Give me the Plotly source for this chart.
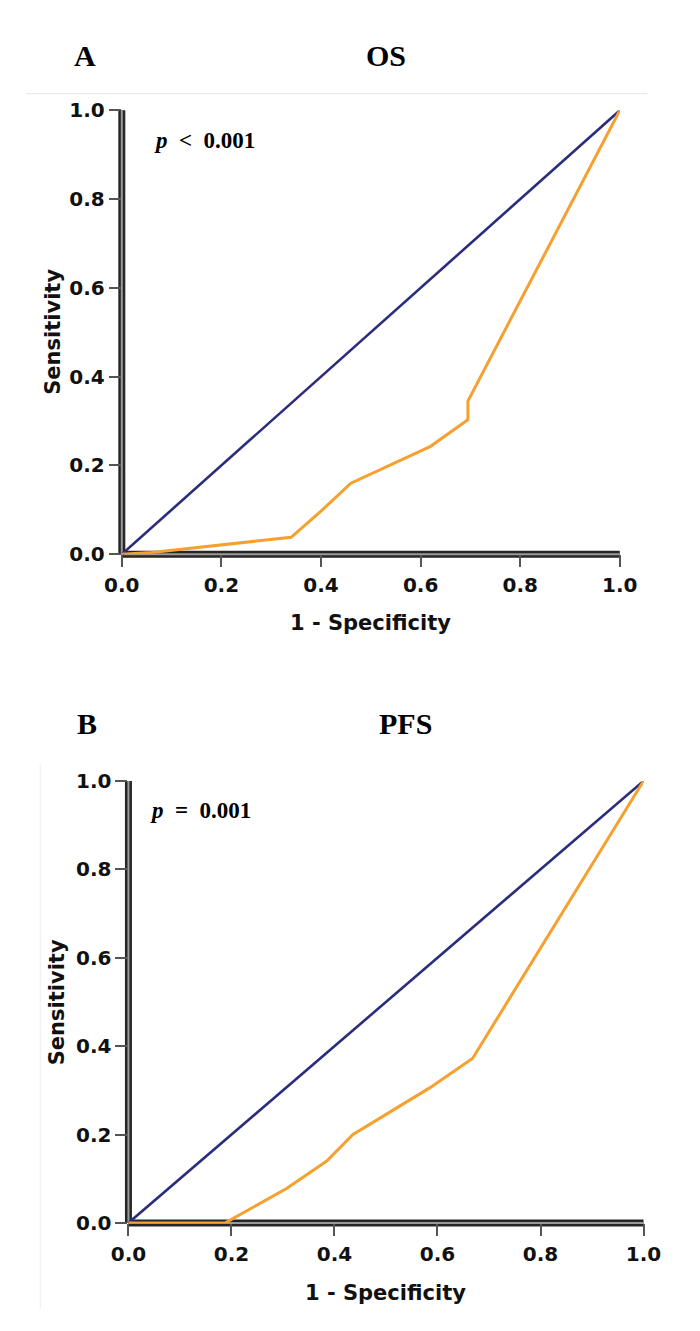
import plotly.graph_objects as go

W, H = 700, 1331

# ---- data ----
tick_vals = [0.0, 0.2, 0.4, 0.6, 0.8, 1.0]
tick_text = ["0.0", "0.2", "0.4", "0.6", "0.8", "1.0"]

ref_x = [0.0, 1.0]
ref_y = [0.0, 1.0]

os_fpr = [0.0, 0.06, 0.34, 0.40, 0.46, 0.62, 0.695, 0.695, 1.0]
os_tpr = [0.0, 0.004, 0.038, 0.097, 0.16, 0.243, 0.303, 0.345, 1.0]

pfs_fpr = [0.0, 0.188, 0.307, 0.385, 0.436, 0.584, 0.668, 1.0]
pfs_tpr = [0.0, 0.0, 0.078, 0.14, 0.20, 0.305, 0.372, 1.0]

panel_titles = ["OS", "PFS"]
panel_letters = ["A", "B"]
p_texts = ["<i>p</i>\u00a0\u00a0<\u00a0\u00a00.001", "<i>p</i>\u00a0\u00a0=\u00a0\u00a00.001"]

BLUE = "#2b2c7c"
ORANGE = "#f6a02f"

def px_x(p):
    return p / W

def px_y(p):
    return 1 - p / H

# panel geometry (pixels): left, right, top(1.0), bottom(0.0)
panels = [
    dict(l=101, r=626, t=92, b=544, title_y=36, letter_x=62, title_x=380,
         p_x=133, p_y=123, xlab_y=614, ylab_x=29),
    dict(l=108, r=651, t=775, b=1225, title_y=716, letter_x=64, title_x=400,
         p_x=129, p_y=805, xlab_y=1296, ylab_x=33),
]

fig = go.Figure()

series = [(os_fpr, os_tpr), (pfs_fpr, pfs_tpr)]
for i, (fx, fy) in enumerate(series):
    xa = "x" if i == 0 else "x2"
    ya = "y" if i == 0 else "y2"
    fig.add_trace(go.Scatter(x=ref_x, y=ref_y, mode="lines",
                             line=dict(color=BLUE, width=2.6),
                             xaxis=xa, yaxis=ya, showlegend=False, hoverinfo="skip"))
    fig.add_trace(go.Scatter(x=fx, y=fy, mode="lines",
                             line=dict(color=ORANGE, width=3),
                             xaxis=xa, yaxis=ya, showlegend=False, hoverinfo="skip"))

tickfont = dict(family="DejaVu Sans", size=20, color="#111111", weight="bold")
axis_common = dict(range=[0, 1], tickvals=tick_vals, ticktext=tick_text,
                   showgrid=False, zeroline=False, showline=False,
                   ticks="outside", ticklen=12, tickwidth=2, tickcolor="#555555",
                   tickfont=tickfont, fixedrange=True)

layout = dict(width=W, height=H, margin=dict(l=0, r=0, t=0, b=0),
              paper_bgcolor="white", plot_bgcolor="white", showlegend=False)

annotations = []
shapes = []
for i, pp in enumerate(panels):
    xk = "xaxis" if i == 0 else "xaxis2"
    yk = "yaxis" if i == 0 else "yaxis2"
    xref = "x" if i == 0 else "x2"
    yref = "y" if i == 0 else "y2"
    layout[xk] = dict(axis_common, domain=[px_x(pp["l"]), px_x(pp["r"])],
                      anchor=yref, ticklabelstandoff=1)
    layout[yk] = dict(axis_common, domain=[px_y(pp["b"]), px_y(pp["t"])],
                      anchor=xref, ticklabelstandoff=0)
    for (x0, y0, x1, y1) in [(0, 0, 1, 0), (0, 0, 0, 1)]:
        shapes.append(dict(type="line", xref=xref + " domain", yref=yref + " domain",
                           x0=x0, y0=y0, x1=x1, y1=y1,
                           line=dict(color="#262626", width=7), layer="below"))
        shapes.append(dict(type="line", xref=xref + " domain", yref=yref + " domain",
                           x0=x0, y0=y0, x1=x1, y1=y1,
                           line=dict(color="#9a9a9a", width=2), layer="below"))
    annotations.append(dict(text="<b>%s</b>" % panel_letters[i], xref="paper", yref="paper",
                            x=px_x(pp["letter_x"]), y=px_y(pp["title_y"]),
                            xanchor="center", yanchor="middle", showarrow=False,
                            font=dict(family="Liberation Serif", size=30, color="#000")))
    annotations.append(dict(text="<b>%s</b>" % panel_titles[i], xref="paper", yref="paper",
                            x=px_x(pp["title_x"]), y=px_y(pp["title_y"]),
                            xanchor="center", yanchor="middle", showarrow=False,
                            font=dict(family="Liberation Serif", size=30, color="#000")))
    annotations.append(dict(text="<b>%s</b>" % p_texts[i], xref="paper", yref="paper",
                            x=px_x(pp["p_x"]), y=px_y(pp["p_y"]),
                            xanchor="left", yanchor="middle", showarrow=False,
                            font=dict(family="Liberation Serif", size=23, color="#000")))
    annotations.append(dict(text="<b>1 - Specificity</b>", xref="paper", yref="paper",
                            x=px_x((pp["l"] + pp["r"]) / 2), y=px_y(pp["xlab_y"]),
                            xanchor="center", yanchor="middle", showarrow=False,
                            font=dict(family="DejaVu Sans", size=21, color="#111")))
    annotations.append(dict(text="<b>Sensitivity</b>", xref="paper", yref="paper",
                            x=px_x(pp["ylab_x"]), y=px_y((pp["t"] + pp["b"]) / 2),
                            xanchor="center", yanchor="middle", showarrow=False, textangle=-90,
                            font=dict(family="DejaVu Sans", size=21, color="#111")))

shapes.append(dict(type="line", xref="paper", yref="paper", x0=0, x1=px_x(655),
                   y0=px_y(75), y1=px_y(75), line=dict(color="#e6e6e6", width=1)))
shapes.append(dict(type="line", xref="paper", yref="paper", x0=px_x(15), x1=px_x(15),
                   y0=px_y(758), y1=px_y(1313), line=dict(color="#eeeeee", width=1)))

layout["annotations"] = annotations
layout["shapes"] = shapes
fig.update_layout(**layout)

fig.write_html("out.html")
